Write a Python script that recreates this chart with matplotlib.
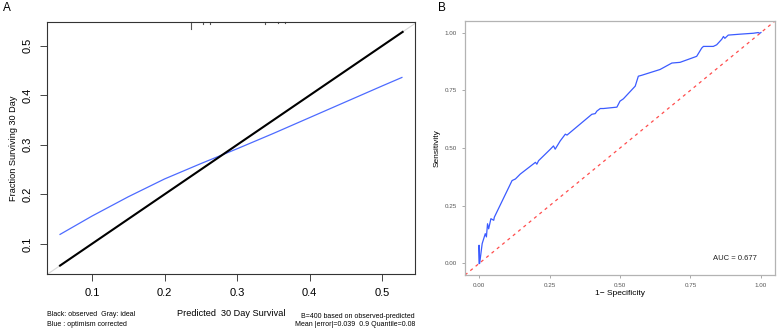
import matplotlib.pyplot as plt
import numpy as np

plt.rcParams["font.family"] = ["Liberation Sans", "DejaVu Sans"]

# panel A: calibration curve
pred_obs = [0.056, 0.528]
pred_blue = [0.056, 0.10, 0.15, 0.20, 0.25, 0.30, 0.35, 0.40, 0.45, 0.50, 0.527]
frac_blue = [0.119, 0.156, 0.195, 0.231, 0.262, 0.292, 0.323, 0.355, 0.387, 0.419, 0.436]
rug_x = [0.236, 0.253, 0.263, 0.338, 0.356, 0.366]
rug_len = [0.014, 0.004, 0.004, 0.004, 0.002, 0.002]
calib_ticks = [0.1, 0.2, 0.3, 0.4, 0.5]

# panel B: ROC curve
fpr = [0.0, 0.0, 0.002, 0.011, 0.022, 0.026, 0.030, 0.034, 0.042, 0.052, 0.054,
       0.117, 0.129, 0.146, 0.200, 0.205, 0.211, 0.253, 0.264, 0.270, 0.288,
       0.306, 0.312, 0.400, 0.412, 0.418, 0.430, 0.441, 0.489, 0.500, 0.512,
       0.554, 0.565, 0.577, 0.642, 0.684, 0.713, 0.772, 0.790, 0.796, 0.831,
       0.843, 0.861, 0.867, 0.872, 0.884, 0.926, 0.973, 0.990, 0.996, 1.0]
tpr = [0.0, 0.079, 0.0, 0.086, 0.129, 0.115, 0.172, 0.150, 0.194, 0.187, 0.200,
       0.359, 0.366, 0.387, 0.438, 0.430, 0.445, 0.495, 0.509, 0.495, 0.531,
       0.560, 0.556, 0.646, 0.649, 0.660, 0.671, 0.671, 0.677, 0.703, 0.713,
       0.768, 0.811, 0.815, 0.840, 0.868, 0.871, 0.897, 0.933, 0.940, 0.940,
       0.947, 0.971, 0.983, 0.975, 0.989, 0.993, 0.997, 1.0, 0.997, 1.0]
auc = 0.677
roc_ticks = [0.0, 0.25, 0.5, 0.75, 1.0]

fig = plt.figure(figsize=(7.79, 3.34), dpi=100)

# ---- panel A ----
ax1 = fig.add_axes([0.0603, 0.1796, 0.4724, 0.7545])
ax1.set_xlim(0.038, 0.545)
ax1.set_ylim(0.039, 0.548)
ax1.plot([0.038, 0.548], [0.038, 0.548], color="#d9d9d9", lw=0.8, zorder=1)
ax1.plot(pred_obs, pred_obs, color="black", lw=1.5, zorder=3)
ax1.plot(pred_blue, frac_blue, color="#4d6bff", lw=0.9, zorder=2)
for x, l in zip(rug_x, rug_len):
    ax1.plot([x, x], [0.548, 0.548 - l], color="#555555", lw=0.8, clip_on=False)
ax1.set_xticks(calib_ticks)
ax1.set_yticks(calib_ticks)
ax1.set_xticklabels([f"{t:.1f}" for t in calib_ticks], fontsize=8)
ax1.set_yticklabels([f"{t:.1f}" for t in calib_ticks], fontsize=8, rotation=90, va="center")
ax1.tick_params(axis="both", direction="out", length=5, width=0.7, color="#444444", pad=5)
for s in ax1.spines.values():
    s.set_linewidth(0.8)
    s.set_color("#333333")
ax1.set_ylabel("Fraction Surviving 30 Day", fontsize=6.6, labelpad=4)

fig.text(231 / 779, 1 - 313 / 334, "Predicted  30 Day Survival", fontsize=6.6,
         ha="center", va="center")
fig.text(47 / 779, 1 - 315 / 334, "Black: observed  Gray: ideal", fontsize=5,
         ha="left", va="center")
fig.text(47 / 779, 1 - 324 / 334, "Blue : optimism corrected", fontsize=5,
         ha="left", va="center")
fig.text(415 / 779, 1 - 316 / 334, "B=400 based on observed-predicted", fontsize=5,
         ha="right", va="center")
fig.text(415 / 779, 1 - 324 / 334, "Mean |error|=0.039  0.9 Quantile=0.08", fontsize=5,
         ha="right", va="center")

# ---- panel B ----
ax2 = fig.add_axes([0.5969, 0.1766, 0.398, 0.7605])
ax2.set_xlim(-0.05, 1.05)
ax2.set_ylim(-0.05, 1.05)
ax2.plot([-0.05, 1.05], [-0.05, 1.05], color="#ff4d4d", lw=0.9,
         linestyle=(0, (2.5, 3)), zorder=1)
ax2.plot(fpr, tpr, color="#3b5bff", lw=0.9, zorder=2)
ax2.text(0.908, 0.02, f"AUC = {auc}", fontsize=5.5, ha="center", va="center",
         color="#222222")
ax2.set_xticks(roc_ticks)
ax2.set_yticks(roc_ticks)
ax2.set_xticklabels([f"{t:.2f}" for t in roc_ticks], fontsize=4.5, color="#555555")
ax2.set_yticklabels([f"{t:.2f}" for t in roc_ticks], fontsize=4.5, color="#555555")
ax2.tick_params(axis="both", length=2, width=0.5, color="#888888", pad=4)
for s in ax2.spines.values():
    s.set_linewidth(0.9)
    s.set_color("#b3b3b3")
ax2.set_xlabel("1\u2212 Specificity", fontsize=6, labelpad=1)
ax2.set_ylabel("Sensitivity", fontsize=6, labelpad=3)

fig.text(7 / 779, 1 - 8 / 334, "A", fontsize=8.5, ha="center", va="center")
fig.text(442 / 779, 1 - 8 / 334, "B", fontsize=8.5, ha="center", va="center")

fig.savefig("out.png", dpi=100)
